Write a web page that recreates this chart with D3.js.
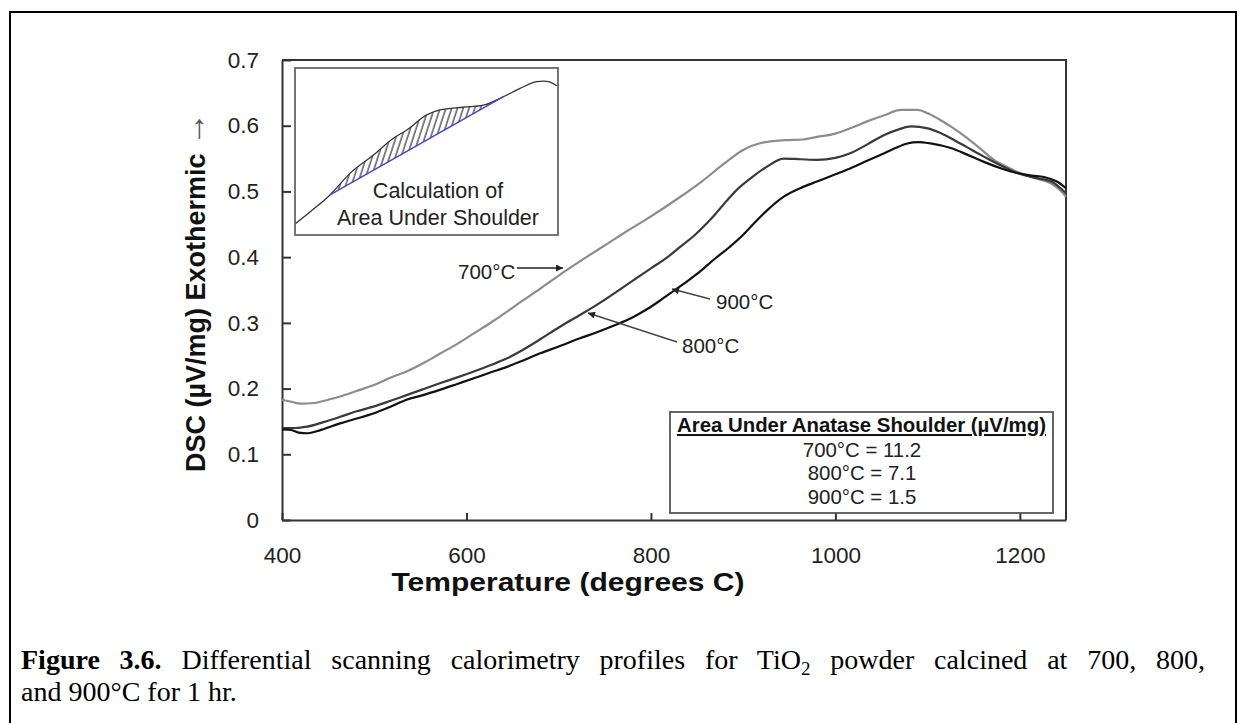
<!DOCTYPE html>
<html>
<head>
<meta charset="utf-8">
<script src="https://cdn.jsdelivr.net/npm/d3@7"></script>
<style>
  html, body { margin: 0; padding: 0; background: #fff; }
  svg { display: block; }
</style>
</head>
<body>
<svg id="chart" width="1246" height="723"></svg>
<script>
// DSC traces (temperature in °C, heat flow in µV/mg)
const temp700 = [400, 410, 420, 435, 450, 463, 480, 499, 520, 535, 555, 571, 590, 608, 625, 644, 660, 680, 700, 730, 750, 770, 800, 830, 855, 880, 900, 920, 945, 965, 980, 1000, 1016, 1035, 1053, 1071, 1089, 1100, 1111, 1127, 1143, 1158, 1172, 1185, 1197, 1215, 1234, 1245, 1250];
const dsc700  = [0.183, 0.180, 0.177, 0.178, 0.183, 0.188, 0.196, 0.205, 0.218, 0.226, 0.240, 0.253, 0.268, 0.284, 0.299, 0.317, 0.333, 0.352, 0.372, 0.400, 0.418, 0.436, 0.462, 0.490, 0.515, 0.543, 0.563, 0.574, 0.578, 0.579, 0.583, 0.588, 0.596, 0.607, 0.616, 0.624, 0.624, 0.619, 0.611, 0.597, 0.581, 0.564, 0.548, 0.538, 0.530, 0.521, 0.512, 0.500, 0.492];

const temp800 = [400, 415, 427, 445, 463, 480, 499, 517, 535, 553, 571, 590, 608, 625, 644, 660, 680, 700, 723, 735, 755, 778, 800, 818, 832, 847, 865, 883, 895, 908, 925, 944, 962, 980, 1000, 1016, 1035, 1053, 1068, 1082, 1100, 1112, 1125, 1143, 1161, 1180, 1197, 1215, 1234, 1250];
const dsc800  = [0.140, 0.140, 0.142, 0.149, 0.157, 0.165, 0.1725, 0.181, 0.190, 0.199, 0.208, 0.217, 0.226, 0.235, 0.246, 0.258, 0.275, 0.293, 0.312, 0.322, 0.340, 0.362, 0.383, 0.400, 0.416, 0.433, 0.458, 0.487, 0.505, 0.520, 0.537, 0.550, 0.549, 0.548, 0.551, 0.558, 0.572, 0.586, 0.594, 0.599, 0.596, 0.590, 0.581, 0.567, 0.553, 0.539, 0.528, 0.521, 0.515, 0.497];

const temp900 = [400, 410, 418, 428, 440, 463, 480, 499, 517, 535, 553, 571, 590, 608, 625, 644, 660, 680, 700, 723, 740, 760, 781, 796, 810, 825, 840, 854, 868, 885, 900, 908, 925, 944, 962, 980, 1000, 1016, 1035, 1053, 1065, 1078, 1090, 1103, 1125, 1143, 1161, 1180, 1197, 1213, 1226, 1240, 1250];
const dsc900  = [0.138, 0.137, 0.133, 0.132, 0.136, 0.147, 0.154, 0.162, 0.172, 0.183, 0.190, 0.198, 0.207, 0.2156, 0.224, 0.233, 0.242, 0.2537, 0.264, 0.2765, 0.285, 0.296, 0.309, 0.321, 0.334, 0.349, 0.364, 0.379, 0.396, 0.415, 0.434, 0.446, 0.470, 0.492, 0.505, 0.515, 0.526, 0.535, 0.547, 0.558, 0.566, 0.573, 0.575, 0.573, 0.566, 0.556, 0.545, 0.535, 0.528, 0.524, 0.522, 0.515, 0.505];

const seriesNames = ["700°C", "800°C", "900°C"];
const seriesColors = ["#8c8c8c", "#3a3a3a", "#111111"];

const xTicks = [400, 600, 800, 1000, 1200];
const yTicks = [0, 0.1, 0.2, 0.3, 0.4, 0.5, 0.6, 0.7];

// Shoulder-area results
const areaTitle = "Area Under Anatase Shoulder (µV/mg)";
const areaRows = ["700°C = 11.2", "800°C = 7.1", "900°C = 1.5"];

// Inset sketch (arbitrary 0–100 units): DSC shoulder and its linear baseline
const insetX = [0.3, 5.7, 13.3, 20.9, 29.8, 37.4, 42.5, 50.1, 55.1, 64.0, 71.6, 79.2, 85.6, 91.9, 94.4, 97.0, 99.5];
const insetY = [7.0, 13.8, 24.0, 36.9, 47.9, 57.9, 62.9, 71.9, 74.9, 76.5, 77.8, 82.8, 87.8, 91.8, 92.2, 91.6, 89.4];
const insetBaseX = [13.3, 79.4];
const insetBaseY = [24.0, 83.0];

const svg = d3.select("#chart");
const sans = "'Liberation Sans', Arial, sans-serif";
const serif = "'Liberation Serif', 'Times New Roman', serif";

// Figure border
svg.append("rect")
  .attr("x", 10).attr("y", 12).attr("width", 1226).attr("height", 740)
  .attr("fill", "none").attr("stroke", "#000").attr("stroke-width", 2);

// Scales
const x = d3.scaleLinear().domain([400, 1250]).range([282, 1066]);
const y = d3.scaleLinear().domain([0, 0.7]).range([520, 60]);

const defs = svg.append("defs");
defs.append("marker")
  .attr("id", "arrowhead")
  .attr("viewBox", "0 0 10 10")
  .attr("refX", 10).attr("refY", 5)
  .attr("markerWidth", 9).attr("markerHeight", 7)
  .attr("markerUnits", "userSpaceOnUse")
  .attr("orient", "auto")
  .append("path").attr("d", "M0,0 L10,5 L0,10 Z").attr("fill", "#222");

// Plot frame (top and right edges)
svg.append("path")
  .attr("d", `M${x(400)},${y(0.7)} H${x(1250)} V${y(0)}`)
  .attr("fill", "none").attr("stroke", "#333").attr("stroke-width", 2);

// Axes with inward ticks
const yAxis = d3.axisLeft(y).tickValues(yTicks).tickSizeInner(-9).tickSizeOuter(0).tickPadding(23)
  .tickFormat(d => d === 0 ? "0" : d3.format(".1f")(d));
const xAxis = d3.axisBottom(x).tickValues(xTicks).tickSizeInner(-7).tickSizeOuter(0).tickPadding(27)
  .tickFormat(d3.format("d"));

const gy = svg.append("g").attr("transform", `translate(${x(400)},0)`).call(yAxis);
const gx = svg.append("g").attr("transform", `translate(0,${y(0)})`).call(xAxis);
[gx, gy].forEach(g => {
  g.select(".domain").attr("stroke", "#333").attr("stroke-width", 2);
  g.selectAll(".tick line").attr("stroke", "#333").attr("stroke-width", 2);
  g.selectAll(".tick text").attr("fill", "#222").style("font-family", sans).style("font-size", "22.5px");
});

// Axis titles
svg.append("text")
  .attr("x", 568).attr("y", 591)
  .attr("text-anchor", "middle")
  .attr("textLength", 353).attr("lengthAdjust", "spacingAndGlyphs")
  .style("font-family", sans).style("font-size", "25px").style("font-weight", "bold").attr("fill", "#111")
  .text("Temperature (degrees C)");

const yt = svg.append("text")
  .attr("transform", "translate(205,292) rotate(-90)")
  .attr("text-anchor", "middle")
  .style("font-family", sans).style("font-size", "27px").style("font-weight", "bold").attr("fill", "#111");
yt.append("tspan").text("DSC (µV/mg) Exothermic ");
yt.append("tspan").style("font-weight", "normal").style("font-size", "34px").attr("fill", "#555").text("→");

// DSC curves
const line = d3.line().x(d => x(d[0])).y(d => y(d[1])).curve(d3.curveMonotoneX);
const series = [
  { name: seriesNames[0], t: temp700, v: dsc700, color: seriesColors[0], w: 2.2 },
  { name: seriesNames[1], t: temp800, v: dsc800, color: seriesColors[1], w: 2.2 },
  { name: seriesNames[2], t: temp900, v: dsc900, color: seriesColors[2], w: 2.2 }
];
svg.append("g").selectAll("path")
  .data(series)
  .join("path")
  .attr("d", s => line(s.t.map((t, i) => [t, s.v[i]])))
  .attr("fill", "none")
  .attr("stroke", s => s.color)
  .attr("stroke-width", s => s.w)
  .attr("stroke-linejoin", "round");

// Curve labels with leader arrows
const labelStyle = sel => sel.style("font-family", sans).style("font-size", "20.5px").attr("fill", "#222");
svg.append("text").attr("x", 458).attr("y", 279).call(labelStyle).text(seriesNames[0]);
svg.append("line").attr("x1", 517).attr("y1", 268).attr("x2", 563).attr("y2", 268)
  .attr("stroke", "#222").attr("stroke-width", 1.4).attr("marker-end", "url(#arrowhead)");

svg.append("text").attr("x", 716).attr("y", 309).call(labelStyle).text(seriesNames[2]);
svg.append("line").attr("x1", 710).attr("y1", 299).attr("x2", 672).attr("y2", 289)
  .attr("stroke", "#444").attr("stroke-width", 1.4).attr("marker-end", "url(#arrowhead)");

svg.append("text").attr("x", 682).attr("y", 353).call(labelStyle).text(seriesNames[1]);
svg.append("line").attr("x1", 677).attr("y1", 342).attr("x2", 588).attr("y2", 313)
  .attr("stroke", "#444").attr("stroke-width", 1.4).attr("marker-end", "url(#arrowhead)");

// Shoulder-area results box
svg.append("rect")
  .attr("x", 670).attr("y", 412).attr("width", 383).attr("height", 101)
  .attr("fill", "#fff").attr("stroke", "#555").attr("stroke-width", 1.8);
svg.append("text")
  .attr("x", 861.5).attr("y", 432).attr("text-anchor", "middle")
  .style("font-family", sans).style("font-size", "20.4px").style("font-weight", "bold")
  .style("text-decoration", "underline").attr("fill", "#111")
  .text(areaTitle);
svg.append("g").selectAll("text")
  .data(areaRows)
  .join("text")
  .attr("x", 862).attr("y", (d, i) => 457 + i * 23.3)
  .attr("text-anchor", "middle")
  .style("font-family", sans).style("font-size", "20.4px").attr("fill", "#222")
  .text(d => d);

// Inset: area under the shoulder
const ix = d3.scaleLinear().domain([0, 100]).range([295, 558]);
const iy = d3.scaleLinear().domain([0, 100]).range([235, 68]);
svg.append("rect")
  .attr("x", 295).attr("y", 68).attr("width", 263).attr("height", 167)
  .attr("fill", "#fff").attr("stroke", "#666").attr("stroke-width", 1.8);

const pat = defs.append("pattern")
  .attr("id", "hatch").attr("patternUnits", "userSpaceOnUse")
  .attr("width", 5.5).attr("height", 12)
  .attr("patternTransform", "rotate(18)");
pat.append("line").attr("x1", 1).attr("y1", 0).attr("x2", 1).attr("y2", 12)
  .attr("stroke", "#222").attr("stroke-width", 1.1);

const baseAt = xv => insetBaseY[0] + (xv - insetBaseX[0]) * (insetBaseY[1] - insetBaseY[0]) / (insetBaseX[1] - insetBaseX[0]);
const curveAt = d3.scaleLinear().domain(insetX).range(insetY);
const shoulderX = [insetBaseX[0]].concat(insetX.filter(v => v > insetBaseX[0] && v < insetBaseX[1]), [insetBaseX[1]]);
const shoulderArea = d3.area()
  .x(d => ix(d))
  .y0(d => iy(baseAt(d)))
  .y1(d => iy(curveAt(d)));
svg.append("path").attr("d", shoulderArea(shoulderX)).attr("fill", "url(#hatch)");

svg.append("path")
  .attr("d", d3.line().x(d => ix(d[0])).y(d => iy(d[1])).curve(d3.curveMonotoneX)(insetX.map((v, i) => [v, insetY[i]])))
  .attr("fill", "none").attr("stroke", "#333").attr("stroke-width", 1.3);
svg.append("line")
  .attr("x1", ix(insetBaseX[0])).attr("y1", iy(insetBaseY[0]))
  .attr("x2", ix(insetBaseX[1])).attr("y2", iy(insetBaseY[1]))
  .attr("stroke", "#4444cc").attr("stroke-width", 1.4);

svg.append("text").attr("x", 438).attr("y", 198).attr("text-anchor", "middle")
  .style("font-family", sans).style("font-size", "21.5px").attr("fill", "#222")
  .text("Calculation of");
svg.append("text").attr("x", 438).attr("y", 225).attr("text-anchor", "middle")
  .style("font-family", sans).style("font-size", "21.5px").attr("fill", "#222")
  .text("Area Under Shoulder");

// Figure caption (first line justified to the text column width)
const cap1 = svg.append("text").attr("x", 21).attr("y", 669)
  .style("font-family", serif).style("font-size", "28px").attr("fill", "#000");
cap1.append("tspan").style("font-weight", "bold").text("Figure 3.6.");
cap1.append("tspan").text(" Differential scanning calorimetry profiles for TiO");
cap1.append("tspan").attr("dy", 6).style("font-size", "19px").text("2");
cap1.append("tspan").attr("dy", -6).text(" powder calcined at 700, 800,");
const columnWidth = 1184;
const natural = cap1.node().getComputedTextLength();
const gaps = (cap1.text().match(/ /g) || []).length;
cap1.style("word-spacing", `${Math.max(0, (columnWidth - natural) / gaps)}px`);

svg.append("text").attr("x", 21).attr("y", 701)
  .style("font-family", serif).style("font-size", "28px").attr("fill", "#000")
  .text("and 900°C for 1 hr.");
</script>
</body>
</html>
